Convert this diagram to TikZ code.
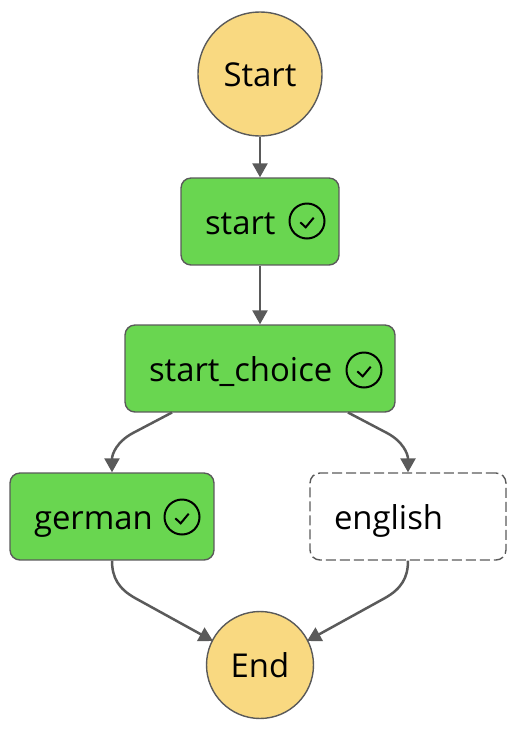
\documentclass[tikz,border=0pt]{standalone}
\usepackage{fontspec}
\setmainfont{Open Sans}
\usetikzlibrary{arrows.meta}
\definecolor{stategreen}{RGB}{105,214,80}
\definecolor{stateyellow}{RGB}{249,217,129}
\definecolor{stateline}{RGB}{90,90,90}
\tikzset{box/.style = {rectangle, rounded corners=0.2cm, draw=stateline, line width=0.028cm,
    minimum height=1.74cm, minimum width=#1, text width=#1-0.96cm, inner xsep=0.48cm, inner ysep=0,
    align=left, text height=0.6cm, text depth=0.1cm, font=\fontsize{18.7}{20}\selectfont}}
\tikzset{done/.style = {box=#1, fill=stategreen}}
\tikzset{skipped/.style = {box=#1, dash pattern=on 0.2cm off 0.08cm}}
\tikzset{term/.style = {circle, fill=stateyellow, draw=stateline, line width=0.028cm, inner sep=0,
    minimum size=#1, text height=0.6cm, text depth=0.1cm, font=\fontsize{18.7}{20}\selectfont}}
\tikzset{tick/.style = {circle, draw=black, line width=0.04cm, inner sep=0, minimum size=0.7cm,
    path picture={\draw[line width=0.04cm, shift={(path picture bounding box.center)}]
      (-6.7,1.3) -- (-1.3,6.3) -- (6.7,-3.3);}}}
\tikzset{link/.style = {draw=stateline, line width=0.05cm, -{Triangle[length=0.28cm, width=0.3cm]}}}

\begin{document}
\begin{tikzpicture}[x=0.02cm, y=-0.02cm]
      \useasboundingbox (0,0) rectangle (516,730);
      \node[term=2.48cm] (startstate) at (260,74) {Start};
      \node[done=3.16cm] (start) at (260,221.5) {start};
      \node[done=5.4cm] (choice) at (260,368.5) {start\_choice};
      \node[done=4.08cm] (german) at (112,516.5) {german};
      \node[skipped=3.92cm] (english) at (408,516.5) {english};
      \node[term=2.14cm] (endstate) at (260,665) {End};
      \node[tick] (t1) at (307,221) {};
      \node[tick] (t2) at (364,370) {};
      \node[tick] (t3) at (182,517) {};
      % edges leave the boxes away from the middle
      \coordinate (c1) at (172,412.5);
      \coordinate (c2) at (348,412.5);
      \coordinate (e1) at (213,641);
      \coordinate (e2) at (307,641);
      \draw[link] (startstate) -- (start);
      \draw[link] (start) -- (choice);
      \draw[link] (c1) -- (133,433) .. controls (117,441.5) and (112,454) .. (german.north);
      \draw[link] (c2) -- (387,433) .. controls (403,441.5) and (408,454) .. (english.north);
      \draw[link] (german.south) .. controls (112,578) and (119,589) .. (135,598) -- (e1);
      \draw[link] (english.south) .. controls (408,578) and (401,589) .. (385,598) -- (e2);
    \end{tikzpicture}
\end{document}
